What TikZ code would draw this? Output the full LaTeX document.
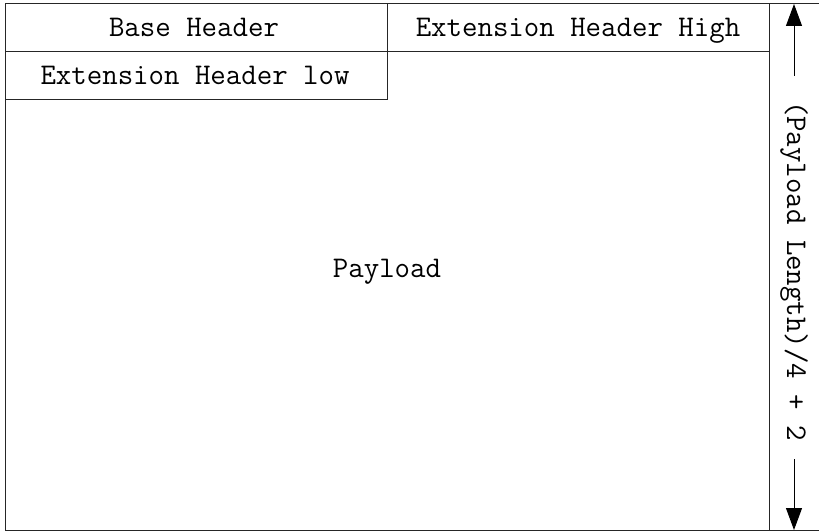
\documentclass[tikz,border=0pt]{standalone}
\usetikzlibrary{arrows.meta}
\begin{document}
\begin{tikzpicture}[x=1pt,y=-1pt,
  cell/.style={draw=none,font=\fontsize{30}{33}\selectfont\ttfamily,inner sep=0pt},
  frame/.style={line width=1pt,draw=black!85},
  dim/.style={line width=1pt,-{Triangle[length=22pt,width=16pt]}}]
\useasboundingbox (0,0) rectangle (819,532);
% frame lines
\draw[frame] (5,4) -- (819,4);
\draw[frame] (5,530) -- (819,530);
\draw[frame] (5,4) -- (5,530);
\draw[frame] (769,4) -- (769,530);
\draw[frame] (5,52) -- (769,52);
\draw[frame] (387,4) -- (387,100);
\draw[frame] (5,100) -- (387,100);
% texts
\node[cell,anchor=base] (base) at (194,37) {Base Header};
\node[cell,anchor=base] (exth) at (578,37) {Extension Header High};
\node[cell,anchor=base] (extl) at (195,85) {Extension Header low};
\node[cell,anchor=base] (pay) at (387,277) {Payload};
\node[cell,rotate=-90] (len) at (794,271) {(Payload Length)/4 + 2};
\coordinate (a1) at (794,76);
\coordinate (a2) at (794,459);
\coordinate (top) at (794,4);
\coordinate (bot) at (794,530);
\draw[dim] (a1) -- (top);
\draw[dim] (a2) -- (bot);
\end{tikzpicture}
\end{document}
